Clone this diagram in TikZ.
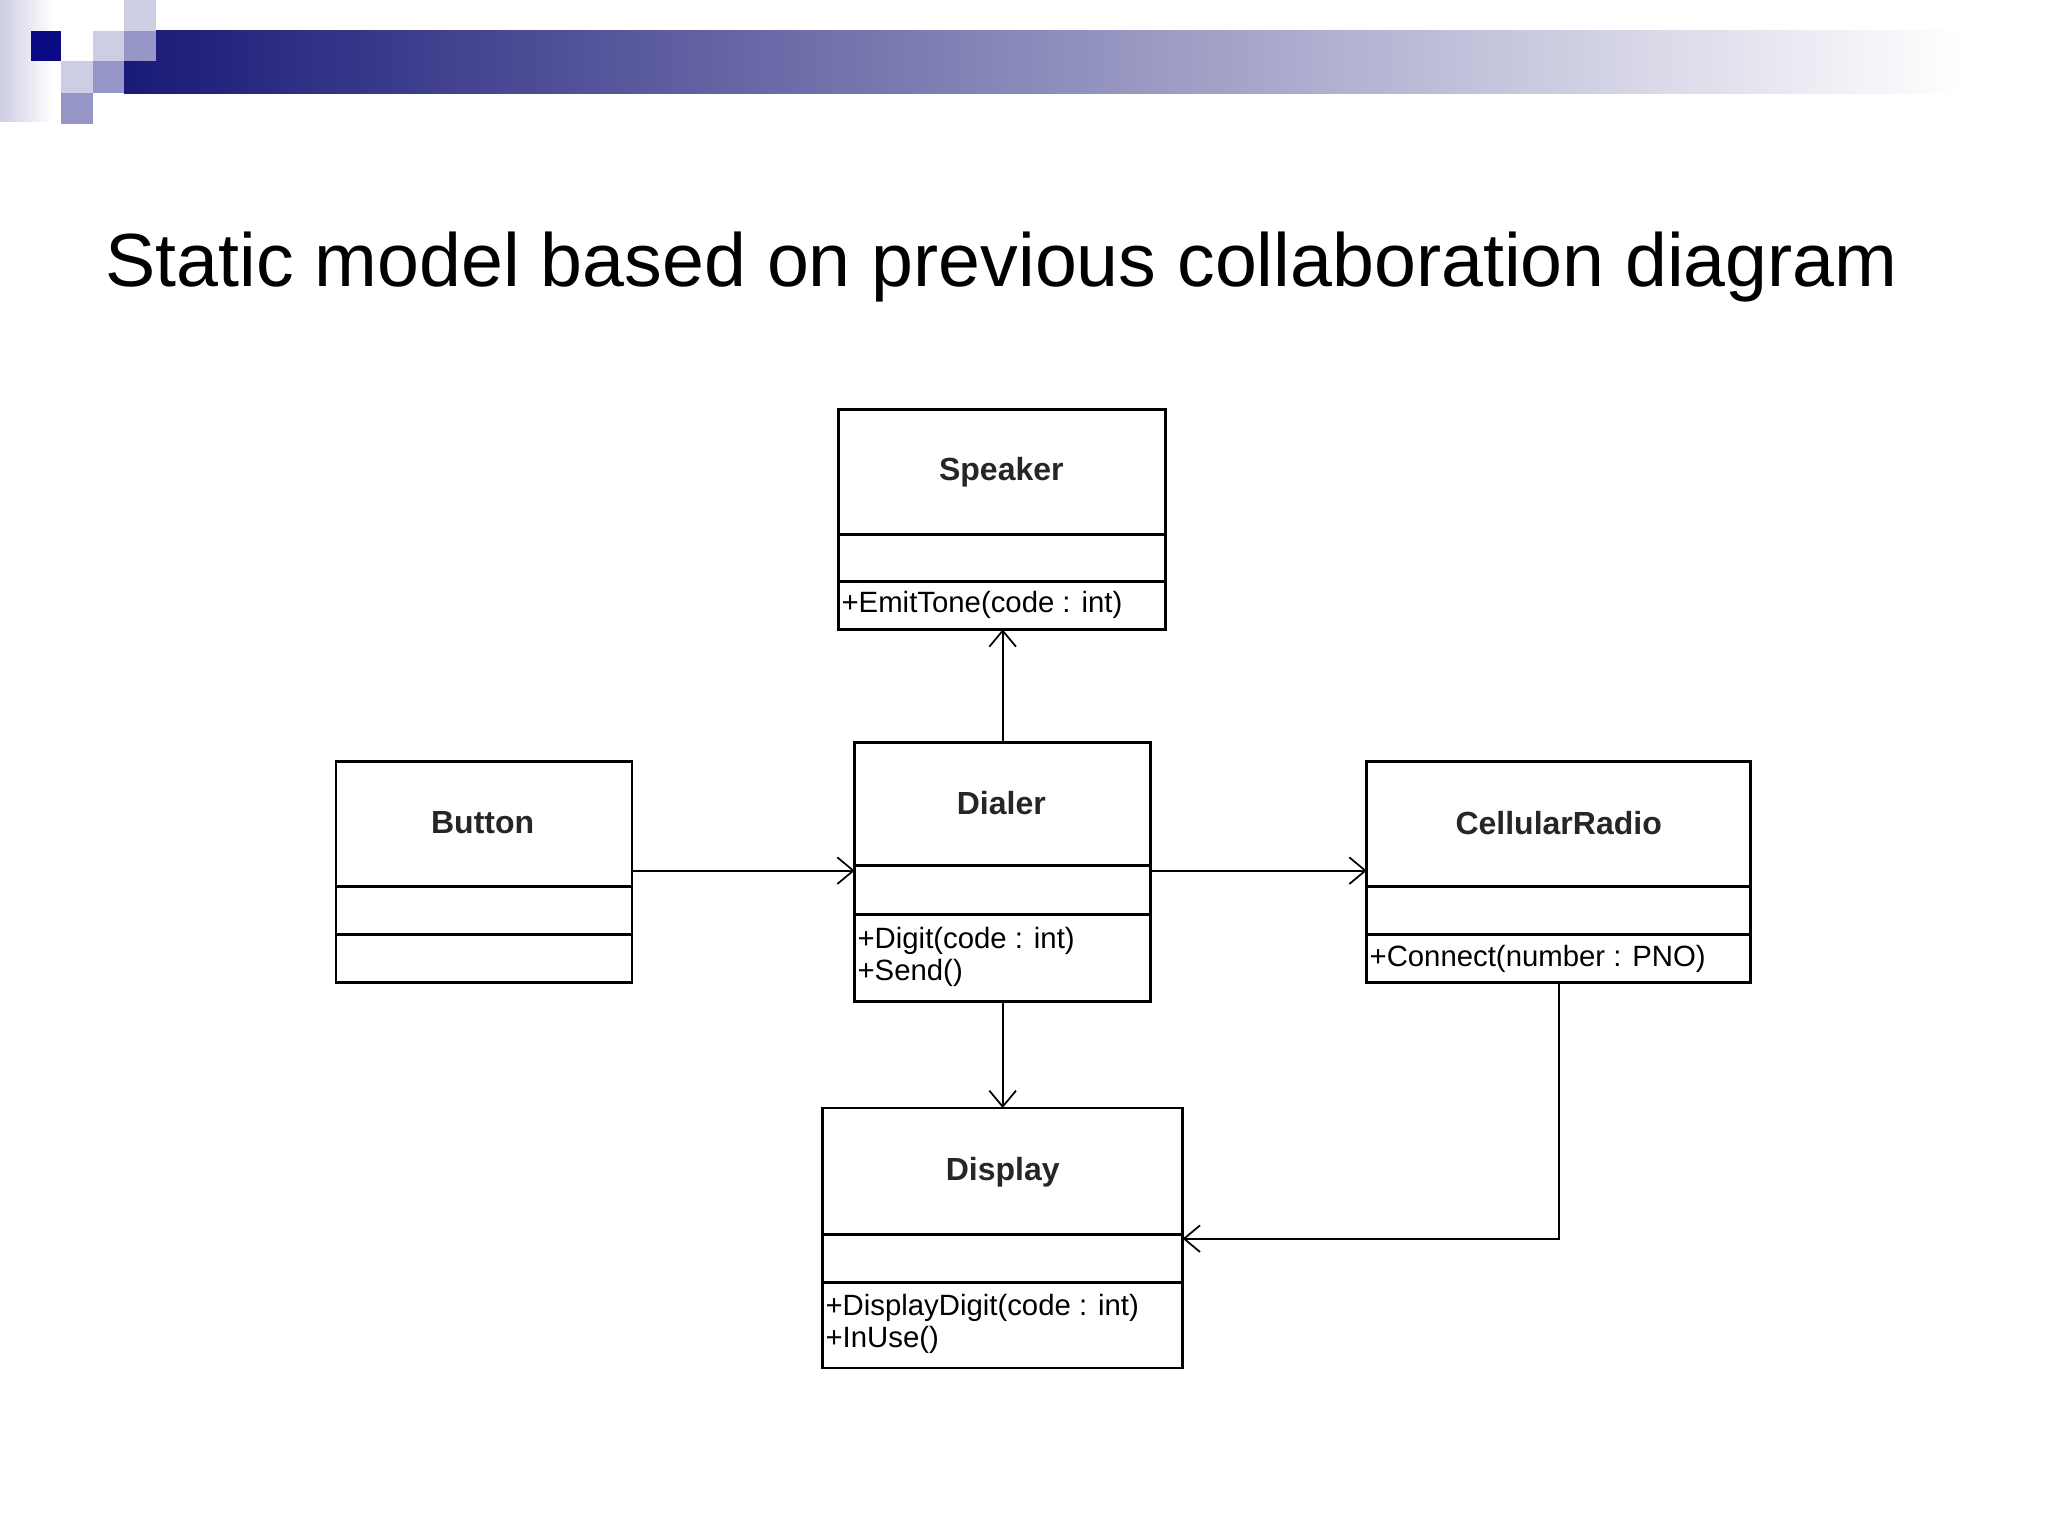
\documentclass[tikz,border=0pt]{standalone}
\usepackage{fontspec}
\setmainfont{Liberation Sans}
\usetikzlibrary{arrows.meta}
\definecolor{navy}{RGB}{10,10,130}
\definecolor{lav}{RGB}{205,205,228}
\definecolor{med}{RGB}{150,150,200}
\definecolor{bar}{RGB}{25,25,120}
\tikzset{
  cls/.style={draw=black,line width=1.8pt},
  lnk/.style={line width=1.3pt,-{Straight Barb[length=12pt,width=20pt,line width=1.3pt]}},
  cname/.style={font=\fontsize{24}{28}\selectfont\bfseries, text=black!85},
  meth/.style={font=\fontsize{22}{28}\selectfont, anchor=west, inner sep=2pt, align=left},
}
\begin{document}
\begin{tikzpicture}[x=1pt,y=-1pt]
\useasboundingbox (0,0) rectangle (1536,1152);
\fill[white] (0,0) rectangle (1536,1152);
% decoration
\shade[left color=lav,right color=white] (0,0) rectangle (40,91);
\shade[left color=bar,right color=white] (93,23) rectangle (1470,70);
\fill[navy] (23,23) rectangle (46,46);
\fill[lav] (93,0) rectangle (117,23);
\fill[lav] (70,23) rectangle (93,46);
\fill[med] (93,23) rectangle (117,46);
\fill[lav] (46,46) rectangle (70,70);
\fill[med] (70,46) rectangle (93,70);
\fill[med] (46,70) rectangle (70,93);
% title
\node[anchor=base west,inner sep=0,font=\fontsize{56.5}{64}\selectfont] (title) at (79,215) {Static model based on previous collaboration diagram};
% Speaker
\draw[cls] (629,307) rectangle (874,472); \draw[cls] (629,401)--(874,401); \draw[cls] (629,436)--(874,436);
\node[cname] (spk) at (751,354) {Speaker};
\node[meth] (spkm) at (629,454) {+EmitTone(code : int)};
\coordinate (spkb) at (752,472);
% Dialer
\draw[cls] (641,557) rectangle (863,751); \draw[cls] (641,649)--(863,649); \draw[cls] (641,686)--(863,686);
\node[cname] (dia) at (751,602) {Dialer};
\node[meth] (diam) at (641,718) {+Digit(code : int)\\[-4pt]+Send()};
\coordinate (diat) at (752,557); \coordinate (diab) at (752,751);
\coordinate (dial) at (641,653); \coordinate (diar) at (863,653);
% Button
\draw[cls] (252,571) rectangle (474,737); \draw[cls] (252,665)--(474,665); \draw[cls] (252,701)--(474,701);
\node[cname] (btn) at (362,617) {Button};
\coordinate (btnr) at (474,653);
% CellularRadio
\draw[cls] (1025,571) rectangle (1313,737); \draw[cls] (1025,665)--(1313,665); \draw[cls] (1025,701)--(1313,701);
\node[cname] (cr) at (1169,617) {CellularRadio};
\node[meth] (crm) at (1025,719) {+Connect(number : PNO)};
\coordinate (crl) at (1025,653); \coordinate (crb) at (1169,737);
% Display
\draw[cls] (617,831) rectangle (887,1026); \draw[cls] (617,926)--(887,926); \draw[cls] (617,962)--(887,962);
\node[cname] (dsp) at (752,879) {Display};
\node[meth] (dspm) at (617,993) {+DisplayDigit(code : int)\\[-4pt]+InUse()};
\coordinate (dspt) at (752,831); \coordinate (dspr) at (887,929);
% links
\draw[lnk] (diat) -- (spkb);
\draw[lnk] (btnr) -- (dial);
\draw[lnk] (diar) -- (crl);
\draw[lnk] (diab) -- (dspt);
\draw[lnk] (crb) |- (dspr);
\end{tikzpicture}
\end{document}
